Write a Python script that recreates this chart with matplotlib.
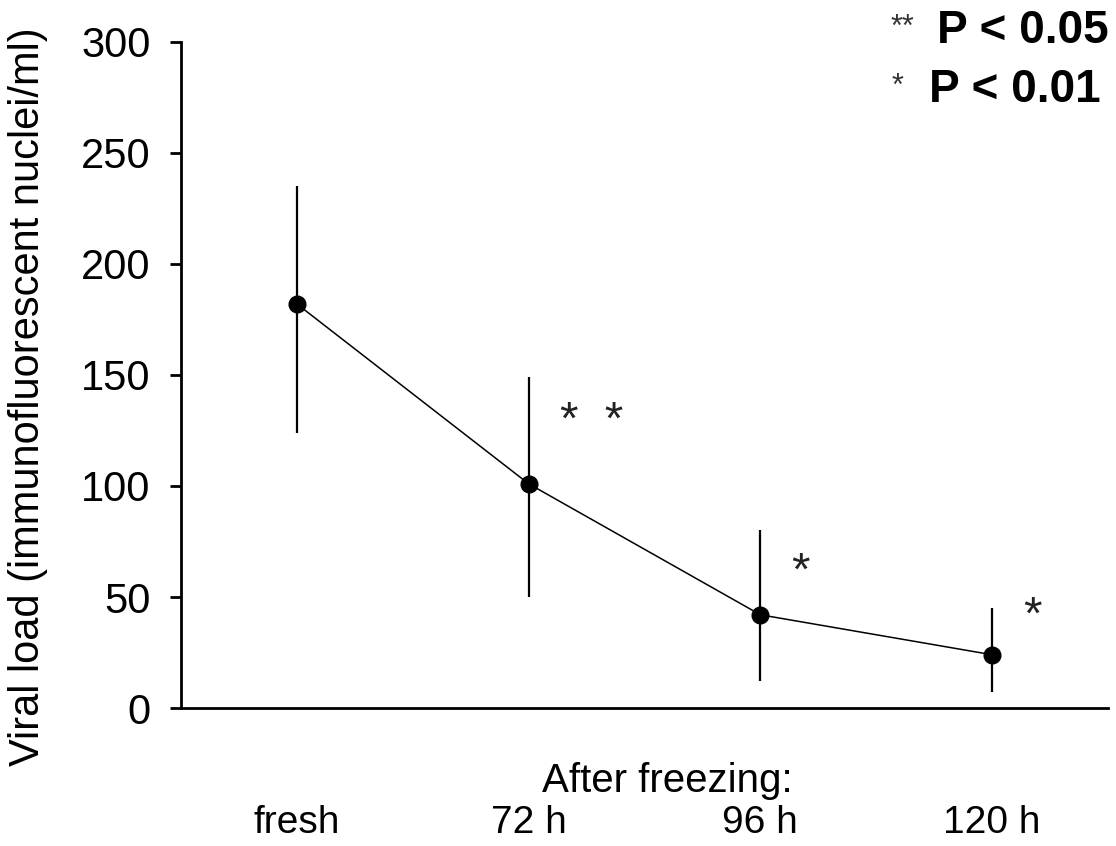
import matplotlib
matplotlib.use("Agg")
from matplotlib import pyplot as plt
import numpy as np

plt.rcParams['font.family'] = ['Liberation Sans', 'DejaVu Sans']

# values
groups = ['fresh', '72 h', '96 h', '120 h']
mean_load = [182, 101, 42, 24]
err_low = [124, 50, 12, 7]
err_high = [235, 149, 80, 45]
stars = ['', '*  *', '*', '*']
star_height = [0, 129, 61, 41]

x = np.arange(len(groups))
mean = np.array(mean_load)
yerr = [mean - np.array(err_low), np.array(err_high) - mean]

fig = plt.figure(figsize=(11.16, 8.46), dpi=100)
ax = fig.add_axes([0.1622, 0.1631, 0.8306, 0.7873])

ax.errorbar(x, mean, yerr=yerr, fmt='none', ecolor='black', elinewidth=1.6, capsize=0)
ax.plot(x, mean, color='black', lw=1.1, marker='o', ms=12)

for xi, yi, s in zip(x, star_height, stars):
    if s:
        ax.text(xi + 0.135, yi, s, fontsize=34, color='#222222', ha='left', va='center')

ax.set_xlim(-0.5, 3.5)
ax.set_ylim(0, 300)
ax.set_yticks(np.arange(0, 301, 50))
ax.spines['top'].set_visible(False)
ax.spines['right'].set_visible(False)
ax.spines['left'].set_linewidth(2)
ax.spines['bottom'].set_linewidth(2)
ax.tick_params(axis='y', direction='out', length=8, width=2, pad=14, labelsize=30)
ax.set_xticks(x)
ax.set_xticklabels(groups, fontsize=28)
ax.tick_params(axis='x', length=0, pad=70)

ax.set_ylabel('Viral load (immunofluorescent nuclei/ml)', fontsize=30)
ax.yaxis.set_label_coords(-0.143, 0.467)
ax.text(0.525, -0.11, 'After freezing:', transform=ax.transAxes, fontsize=29,
        ha='center', va='center')

fig.text(0.993, 0.963, 'P < 0.05', fontsize=33, fontweight='bold', ha='right', va='center')
fig.text(0.986, 0.894, 'P < 0.01', fontsize=33, fontweight='bold', ha='right', va='center')
fig.text(0.809, 0.967, '**', fontsize=22, color='#333333', ha='center', va='center')
fig.text(0.804, 0.897, '*', fontsize=22, color='#333333', ha='center', va='center')

fig.savefig('out.png', dpi=100)
